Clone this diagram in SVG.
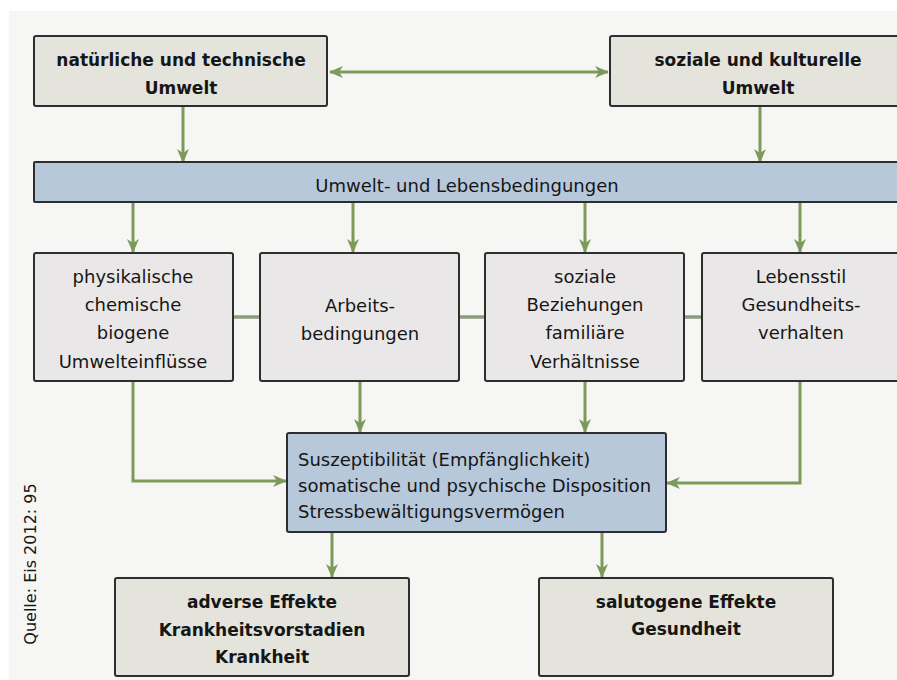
<svg xmlns="http://www.w3.org/2000/svg" width="897" height="680" viewBox="0 0 897 680">
<defs>
<marker id="ah" markerUnits="userSpaceOnUse" markerWidth="14" markerHeight="14" viewBox="0 0 14 14" refX="13" refY="7" orient="auto-start-reverse">
<path d="M0,1 L14,7 L0,13 L4,7 Z" fill="#7c9a5a"/>
</marker>
</defs>
<style>
.bg{fill:#f6f6f4}
.box{stroke:#2e2e2e;stroke-width:2}
.env{fill:#e4e4dc}
.mid{fill:#e9e7e7}
.blue{fill:#b7c8db}
.t{font-family:"DejaVu Sans","Liberation Sans",sans-serif;font-size:18px;fill:#161616;text-anchor:middle}
.b{font-family:"DejaVu Sans","Liberation Sans",sans-serif;font-size:17px;font-weight:bold;fill:#161616;text-anchor:middle}
.l{text-anchor:start}
.c{fill:none;stroke:#7c9a5a;stroke-width:3}
.j{fill:none;stroke:#8d9c80;stroke-width:3.5}
</style>
<rect x="0" y="0" width="897" height="680" fill="#ffffff"/>
<rect class="bg" x="9" y="11" width="888" height="669"/>

<g id="connectors">
<path class="c" d="M330,72 H608" marker-start="url(#ah)" marker-end="url(#ah)"/>
<path class="c" d="M183,107 V162" marker-end="url(#ah)"/>
<path class="c" d="M760,107 V162" marker-end="url(#ah)"/>
<path class="c" d="M133,203 V252" marker-end="url(#ah)"/>
<path class="c" d="M353,203 V252" marker-end="url(#ah)"/>
<path class="c" d="M585,203 V252" marker-end="url(#ah)"/>
<path class="c" d="M800,203 V252" marker-end="url(#ah)"/>
<path class="j" d="M234,317 H260"/>
<path class="j" d="M460,317 H485"/>
<path class="j" d="M685,317 H702"/>
<path class="c" d="M133,382 V481 H286" marker-end="url(#ah)"/>
<path class="c" d="M360,382 V432" marker-end="url(#ah)"/>
<path class="c" d="M585,382 V432" marker-end="url(#ah)"/>
<path class="c" d="M800,382 V483 H667" marker-end="url(#ah)"/>
<path class="c" d="M332,533 V577" marker-end="url(#ah)"/>
<path class="c" d="M602,533 V577" marker-end="url(#ah)"/>
</g>

<g id="natural">
<rect class="box env" x="34" y="36" width="293" height="70" rx="2"/>
<text class="b" x="181" y="66">natürliche und technische</text>
<text class="b" x="181" y="94">Umwelt</text>
</g>
<g id="social">
<rect class="box env" x="610" y="36" width="296" height="70" rx="2"/>
<text class="b" x="758" y="66">soziale und kulturelle</text>
<text class="b" x="758" y="94">Umwelt</text>
</g>
<g id="conditions">
<rect class="box blue" x="34" y="162" width="872" height="40" rx="1"/>
<text class="t" x="467" y="192">Umwelt- und Lebensbedingungen</text>
</g>
<g id="physical">
<rect class="box mid" x="34" y="253" width="199" height="128" rx="2"/>
<text class="t" x="133" y="283">physikalische</text>
<text class="t" x="133" y="311">chemische</text>
<text class="t" x="133" y="339">biogene</text>
<text class="t" x="133" y="368">Umwelteinflüsse</text>
</g>
<g id="work">
<rect class="box mid" x="260" y="253" width="199" height="128" rx="2"/>
<text class="t" x="360" y="312">Arbeits-</text>
<text class="t" x="360" y="340">bedingungen</text>
</g>
<g id="relations">
<rect class="box mid" x="485" y="253" width="199" height="128" rx="2"/>
<text class="t" x="585" y="283">soziale</text>
<text class="t" x="585" y="311">Beziehungen</text>
<text class="t" x="585" y="339">familiäre</text>
<text class="t" x="585" y="368">Verhältnisse</text>
</g>
<g id="lifestyle">
<rect class="box mid" x="702" y="253" width="200" height="128" rx="2"/>
<text class="t" x="801" y="283">Lebensstil</text>
<text class="t" x="801" y="311">Gesundheits-</text>
<text class="t" x="801" y="339">verhalten</text>
</g>
<g id="susceptibility">
<rect class="box blue" x="287" y="433" width="379" height="99" rx="2"/>
<text class="t l" x="298" y="466">Suszeptibilität (Empfänglichkeit)</text>
<text class="t l" x="298" y="492">somatische und psychische Disposition</text>
<text class="t l" x="298" y="518">Stressbewältigungsvermögen</text>
</g>
<g id="adverse">
<rect class="box env" x="115" y="578" width="294" height="98" rx="2"/>
<text class="b" x="262" y="608">adverse Effekte</text>
<text class="b" x="262" y="636">Krankheitsvorstadien</text>
<text class="b" x="262" y="663">Krankheit</text>
</g>
<g id="salutogenic">
<rect class="box env" x="539" y="578" width="294" height="98" rx="2"/>
<text class="b" x="686" y="608">salutogene Effekte</text>
<text class="b" x="686" y="635">Gesundheit</text>
</g>
<g id="source">
<text class="t" style="font-size:16px" transform="translate(36,564) rotate(-90)">Quelle: Eis 2012: 95</text>
</g>
</svg>
